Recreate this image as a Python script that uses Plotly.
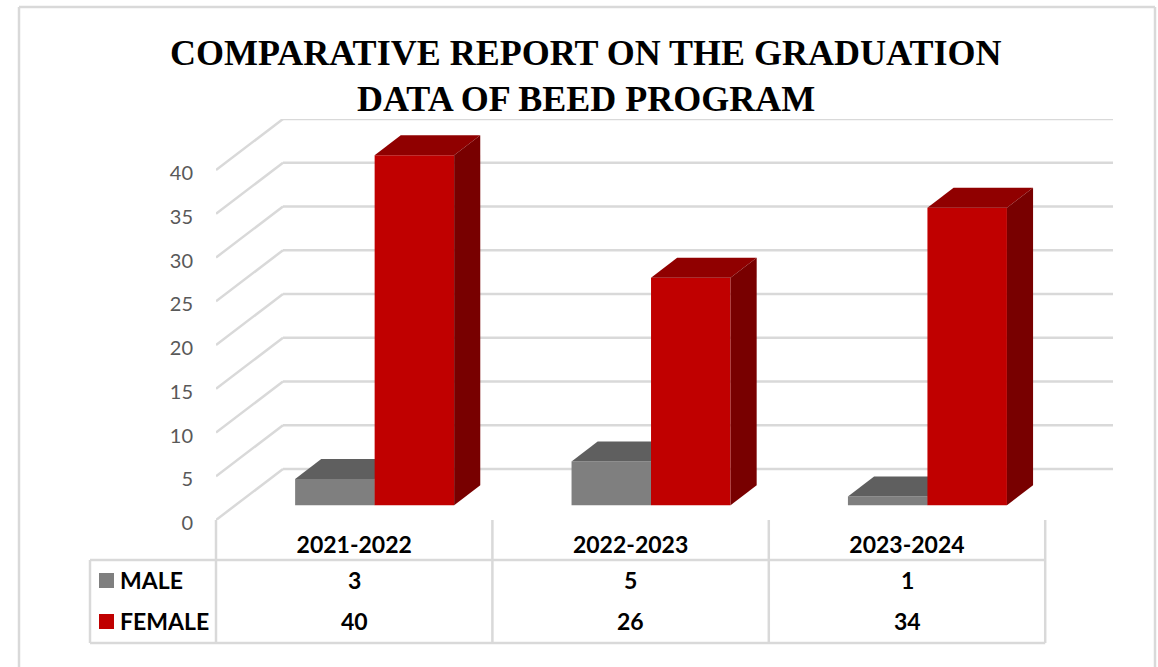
import plotly.graph_objects as go

# ---- chart data ----
categories = ["2021-2022", "2022-2023", "2023-2024"]
male = [3, 5, 1]
female = [40, 26, 34]
y_ticks = [0, 5, 10, 15, 20, 25, 30, 35, 40]
title_lines = ["COMPARATIVE REPORT ON THE GRADUATION", "DATA OF BEED PROGRAM"]

# ---- layout geometry (pixels in the 1158x667 window) ----
W, H = 1158, 667
PL, PR, PT, PB = 216, 1113, 119, 520   # plot box
X_UNIT = 276.4                          # px per category
Y_UNIT = 8.75                           # px per value unit
x0 = -0.5
x1 = x0 + (PR - PL) / X_UNIT
y1 = (PB - PT) / Y_UNIT
DX = 67 / X_UNIT   # whole-floor depth, in axis units
DY = 51 / Y_UNIT
D_FRONT, D_BACK = 0.305, 0.695  # bar depth position (horizontal), floor fraction
D_BASE = 0.29                   # bar front-base height, floor fraction
BAR_W = 79.5 / X_UNIT

GRID = "#d9d9d9"
COL = {"male": ("#7f7f7f", "#5f5f5f", "#4c4c4c"), "female": ("#c00000", "#900000", "#780000")}


def px(x):
    return (x - PL) / (PR - PL)


def py(y):
    return (PB - y) / (PB - PT)


fig = go.Figure()
shapes = []

# back wall and left-wall gridlines
for v in y_ticks:
    shapes.append(dict(type="line", layer="below", xref="x", yref="y",
                       x0=x0, y0=v, x1=x0 + DX, y1=v + DY, line=dict(color=GRID, width=2.5)))
    shapes.append(dict(type="line", layer="below", xref="x", yref="y",
                       x0=x0 + DX, y0=v + DY, x1=x1, y1=v + DY, line=dict(color=GRID, width=2.5)))


def add_bar(name, values, side, z):
    front, top, right = COL[name]
    for i, v in enumerate(values):
        left = i + DX * D_FRONT + (0 if side > 0 else -BAR_W)
        rgt = left + BAR_W
        base = DY * D_BASE
        ddx = DX * (D_BACK - D_FRONT)
        ddy = DY * (D_BACK - D_FRONT)
        fig.add_trace(go.Bar(x=[left + BAR_W / 2], y=[v], base=[base], width=[BAR_W],
                             marker=dict(color=front, line=dict(width=0)),
                             name=name.upper(), zorder=z, showlegend=False, hoverinfo="skip"))
        fig.add_trace(go.Scatter(x=[left, rgt, rgt + ddx, left + ddx, left],
                                 y=[base + v, base + v, base + v + ddy, base + v + ddy, base + v],
                                 mode="lines", fill="toself", fillcolor=top, line=dict(width=0),
                                 zorder=z, showlegend=False, hoverinfo="skip"))
        fig.add_trace(go.Scatter(x=[rgt, rgt + ddx, rgt + ddx, rgt, rgt],
                                 y=[base, base + ddy, base + v + ddy, base + v, base],
                                 mode="lines", fill="toself", fillcolor=right, line=dict(width=0),
                                 zorder=z, showlegend=False, hoverinfo="skip"))


add_bar("male", male, -1, 1)
add_bar("female", female, 1, 2)

# data table lines
T_HEAD, T_BOT, T_LEFT = 560, 643, 90
for i in range(len(categories) + 1):
    xp = PL + X_UNIT * i
    shapes.append(dict(type="line", xref="paper", yref="paper", x0=px(xp), x1=px(xp),
                       y0=py(PB), y1=py(T_BOT), line=dict(color=GRID, width=2.5)))
xp_end = PL + X_UNIT * len(categories)
for yy in (T_HEAD, T_BOT):
    shapes.append(dict(type="line", xref="paper", yref="paper", x0=px(T_LEFT), x1=px(xp_end),
                       y0=py(yy), y1=py(yy), line=dict(color=GRID, width=2.5)))
shapes.append(dict(type="line", xref="paper", yref="paper", x0=px(T_LEFT), x1=px(T_LEFT),
                   y0=py(T_HEAD), y1=py(T_BOT), line=dict(color=GRID, width=2.5)))

# legend keys in the table
for yc, c in ((580.5, COL["male"][0]), (621.5, COL["female"][0])):
    shapes.append(dict(type="rect", xref="paper", yref="paper", x0=px(99), x1=px(114),
                       y0=py(yc - 7.5), y1=py(yc + 7.5), fillcolor=c, line=dict(width=0)))

# chart-area frame (open at the bottom of the window)
for a, b, c, d in ((19, 7, 1155, 7), (19, 7, 19, H), (1155, 7, 1155, H)):
    shapes.append(dict(type="line", xref="paper", yref="paper", x0=px(a), x1=px(c),
                       y0=py(b), y1=py(d), line=dict(color=GRID, width=2.5)))

ann = []
TF = "Lato"
for name, yc, vals in (("MALE", 580, male), ("FEMALE", 621, female)):
    ann.append(dict(text=f"<b>{name}</b>", xref="paper", yref="paper", x=px(118), y=py(yc),
                    xanchor="left", yanchor="middle", showarrow=False,
                    font=dict(family=TF, size=23, color="#000000")))
    for i, v in enumerate(vals):
        ann.append(dict(text=f"<b>{v}</b>", xref="x", yref="paper", x=i, y=py(yc),
                        xanchor="center", yanchor="middle", showarrow=False,
                        font=dict(family=TF, size=23, color="#000000")))
for line, yc in zip(title_lines, (53, 98.5)):
    ann.append(dict(text=f"<b>{line}</b>", xref="paper", yref="paper", x=px(585.5), y=py(yc),
                    xanchor="center", yanchor="middle", showarrow=False,
                    font=dict(family="Liberation Serif", size=36, color="#000000")))

fig.update_layout(
    width=W, height=H, autosize=False, barmode="overlay", showlegend=False,
    margin=dict(l=PL, r=W - PR, t=PT, b=H - PB),
    paper_bgcolor="white", plot_bgcolor="rgba(0,0,0,0)",
    shapes=shapes, annotations=ann,
    xaxis=dict(range=[x0, x1], tickmode="array", tickvals=list(range(len(categories))),
               ticktext=[f"<b>{c}</b>" for c in categories], showgrid=False, zeroline=False,
               showline=False, ticks="outside", ticklen=4, tickcolor="rgba(0,0,0,0)",
               tickfont=dict(family=TF, size=23, color="#000000")),
    yaxis=dict(range=[0, y1], tickmode="array", tickvals=y_ticks, showgrid=False, zeroline=False,
               showline=False, ticks="outside", ticklen=18, tickcolor="rgba(0,0,0,0)",
               ticklabelshift=3,
               tickfont=dict(family=TF, size=20, color="#595959")),
)

fig.write_html("out.html", config={"displayModeBar": False},
               post_script="document.body.style.margin='0';")
